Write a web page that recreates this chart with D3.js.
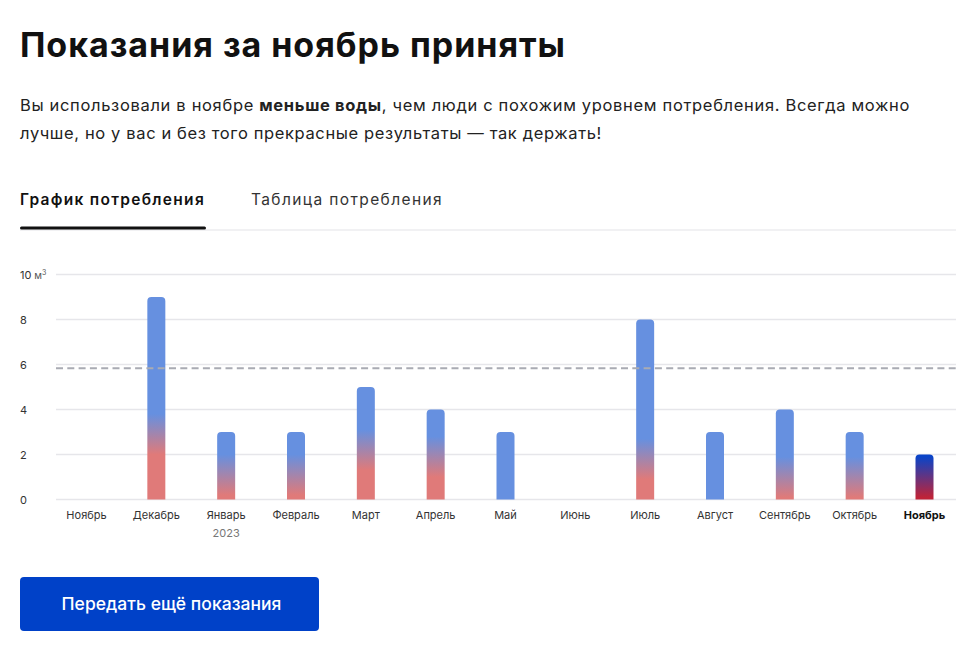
<!DOCTYPE html>
<html><head><meta charset="utf-8">
<script src="https://cdn.jsdelivr.net/npm/d3@7"></script>
<style>
body{margin:0;background:#fff;}
svg{display:block;font-family:Inter,Roboto,"Noto Sans",sans-serif;}
</style>
</head><body>
<svg id="c" width="980" height="660"></svg>
<script>
// ---- data ----
const periods = ["2022-11","2022-12","2023-01","2023-02","2023-03","2023-04","2023-05","2023-06","2023-07","2023-08","2023-09","2023-10","2023-11"];
const monthLabels = ["Ноябрь","Декабрь","Январь","Февраль","Март","Апрель","Май","Июнь","Июль","Август","Сентябрь","Октябрь","Ноябрь"];
const yearLabels = ["","","2023","","","","","","","","","",""];
const totalValues = [0,9,3,3,5,4,3,0,8,3,4,3,2];
const hotValues   = [0,2.9,1.1,1.1,2.2,1.9,0,0,1.8,0,1.0,1.0,1.0];
const averageValue = 5.83;
const yTicks = [0,2,4,6,8,10];
const currentPeriod = "2023-11";

const title = "Показания за ноябрь приняты";
const tabs = ["График потребления","Таблица потребления"];
const buttonLabel = "Передать ещё показания";

const svg = d3.select("#c");
const defs = svg.append("defs");

// widen text by letter-spacing to a target width (reference font is wider)
function fitWidth(sel, target){
  const n = sel.node();
  const w = n.getComputedTextLength();
  const chars = n.textContent.length;
  sel.attr("letter-spacing", ((target - w)/chars).toFixed(3));
  return sel;
}

// ---- header ----
fitWidth(svg.append("text").attr("x",20).attr("y",56.5)
  .attr("font-size",34).attr("font-weight",700).attr("fill","#111")
  .text(title), 546);

const p1 = svg.append("text").attr("x",20).attr("y",111).attr("font-size",16.5).attr("fill","#222");
p1.append("tspan").text("Вы использовали в ноябре ");
p1.append("tspan").attr("font-weight",700).text("меньше воды");
p1.append("tspan").text(", чем люди с похожим уровнем потребления. Всегда можно");
fitWidth(p1, 890);
fitWidth(svg.append("text").attr("x",20).attr("y",139).attr("font-size",16.5).attr("fill","#222")
  .text("лучше, но у вас и без того прекрасные результаты — так держать!"), 582);

// ---- tabs ----
fitWidth(svg.append("text").attr("x",20).attr("y",205).attr("font-size",15.5).attr("font-weight",600).attr("fill","#111").text(tabs[0]), 185);
fitWidth(svg.append("text").attr("x",251).attr("y",205).attr("font-size",15.5).attr("font-weight",400).attr("fill","#333").text(tabs[1]), 192);
svg.append("rect").attr("x",20).attr("y",229.5).attr("width",936).attr("height",1).attr("fill","#e4e4e8");
svg.append("rect").attr("x",20).attr("y",226.5).attr("width",186).attr("height",3).attr("rx",1.5).attr("fill","#111");

// ---- chart ----
const y = d3.scaleLinear().domain([0,10]).range([499.5,274.5]);
const x = d3.scalePoint().domain(periods).range([86.5,924.5]);
const gridX0 = 56, gridX1 = 956;

// grid
svg.append("g").selectAll("line").data(yTicks).join("line")
  .attr("x1",gridX0).attr("x2",gridX1)
  .attr("y1",d=>y(d)).attr("y2",d=>y(d))
  .attr("stroke","#e6e6ea").attr("stroke-width",1.5);

// y tick labels
const yl = svg.append("g");
yTicks.forEach(t=>{
  const tx = yl.append("text").attr("x",20).attr("y",y(t)+4)
    .attr("font-size",11).attr("fill","#333").text(t);
  if(t===10){
    tx.append("tspan").attr("font-size",10).attr("fill","#555").text(" м");
    tx.append("tspan").attr("font-size",7).attr("dy",-4).attr("fill","#555").text("3");
  }
});

// x labels
const xg = svg.append("g");
xg.selectAll("text.m").data(periods).join("text")
  .attr("class","m")
  .attr("x",d=>x(d)).attr("y",519)
  .attr("font-size",11)
  .attr("font-weight",d=>d===currentPeriod?700:400)
  .attr("fill",d=>d===currentPeriod?"#111":"#333")
  .attr("text-anchor","middle")
  .text((d,i)=>monthLabels[i]);
xg.selectAll("text.yr").data(periods.filter((d,i)=>yearLabels[i])).join("text")
  .attr("class","yr").attr("x",d=>x(d)).attr("y",536.5)
  .attr("font-size",11).attr("fill","#777").attr("text-anchor","middle")
  .text(d=>yearLabels[periods.indexOf(d)]);

// bars
const barW = 18, r = 4;
const data = periods.map((p,i)=>({p, i, v: totalValues[i], h: hotValues[i], cur: p===currentPeriod}));
data.forEach(d=>{
  const g = defs.append("linearGradient").attr("id","g"+d.i)
    .attr("gradientUnits","userSpaceOnUse")
    .attr("x1",0).attr("x2",0)
    .attr("y1",y(Math.max(d.h-0.9,0))).attr("y2",y(d.h+0.9));
  const red = d.cur ? "#bf2338" : "#e07a79";
  const blue = d.cur ? "#0a44c8" : "#6690e0";
  g.append("stop").attr("offset",0).attr("stop-color",d.h>0?red:blue);
  g.append("stop").attr("offset",1).attr("stop-color",blue);
});
function barPath(d){
  const cx = x(d.p), x0 = cx-barW/2, x1 = cx+barW/2, yt = y(d.v), yb = y(0);
  return `M${x0},${yb}V${yt+r}Q${x0},${yt} ${x0+r},${yt}H${x1-r}Q${x1},${yt} ${x1},${yt+r}V${yb}Z`;
}
svg.append("g").selectAll("path").data(data.filter(d=>d.v>0)).join("path")
  .attr("d",barPath)
  .attr("fill",d=>`url(#g${d.i})`);

// average dashed line
svg.append("line").attr("x1",gridX0).attr("x2",gridX1)
  .attr("y1",y(averageValue)).attr("y2",y(averageValue))
  .attr("stroke","#a9abb3").attr("stroke-width",2).attr("stroke-dasharray","7,4.3");

// ---- button ----
svg.append("rect").attr("x",20).attr("y",577).attr("width",299).attr("height",54).attr("rx",4).attr("fill","#0041c8");
fitWidth(svg.append("text").attr("x",61.5).attr("y",610)
  .attr("font-size",17.5).attr("font-weight",500).attr("fill","#fff").text(buttonLabel), 220);
</script>
</body></html>
